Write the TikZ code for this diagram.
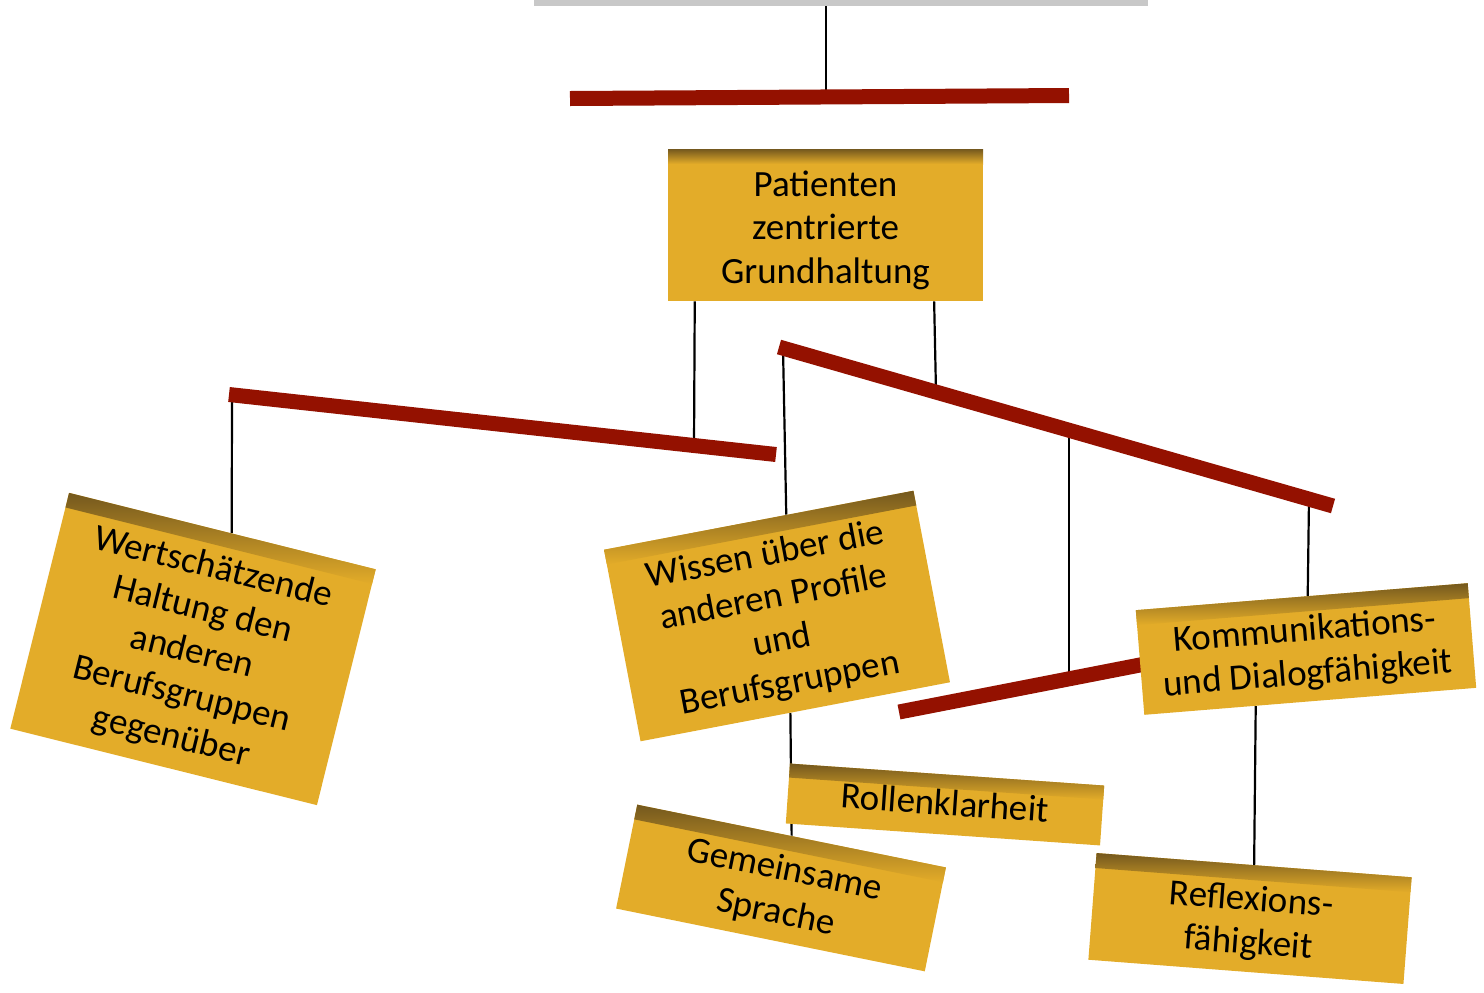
\documentclass[tikz,border=0pt]{standalone}
\usepackage{fontspec}
\setmainfont{Carlito}
\usetikzlibrary{calc}
\definecolor{barred}{RGB}{148,17,0}
\definecolor{boxfill}{RGB}{227,172,41}
\definecolor{boxshadow}{RGB}{116,88,30}
\definecolor{greybar}{RGB}{200,200,200}
\pgfdeclarelayer{lines}
\pgfdeclarelayer{bars}
\pgfsetlayers{lines,bars,main}
\newcommand\mbtext[2][2.5pt]{\raisebox{-#1}[\height][\depth]{\begin{tabular}{@{}c@{}}#2\end{tabular}}}
\tikzset{
  mobilebox/.style={fill=boxfill, inner sep=0pt, align=center, transform shape,
    font=\fontsize{18.5pt}{21.75pt}\selectfont},
  topshade/.style={top color=boxshadow, bottom color=boxfill},
  hangline/.style={line width=1.1pt, draw=black},
  redbar/.style={line width=7.5pt, draw=barred, line cap=butt},
}
\begin{document}
\begin{tikzpicture}[x=0.5pt, y=-0.5pt]
\useasboundingbox (0,0) rectangle (1484,992);

% ---------- boxes ----------
\begin{scope}[shift={(825.5,225)}]
  \node[mobilebox, minimum width=157.5pt, minimum height=76pt] (pzg) at (0,0) {\mbtext[3pt]{Patienten\\zentrierte\\Grundhaltung}};
  \shade[topshade] (-157.5,-76) rectangle (157.5,-61);
\end{scope}

\begin{scope}[shift={(193,649)}, rotate=-14]
  \node[mobilebox, minimum width=158pt, minimum height=121.5pt] (wert) at (0,0) {\mbtext{Wertschätzende\\Haltung den\\anderen\\Berufsgruppen\\gegenüber}};
  \shade[topshade] (-158,-121.5) rectangle (158,-106.5);
\end{scope}

\begin{scope}[shift={(777,616)}, rotate=10.8]
  \node[mobilebox, minimum width=157.5pt, minimum height=97.5pt] (wissen) at (0,0) {\mbtext{Wissen über die\\anderen Profile\\und\\Berufsgruppen}};
  \shade[topshade] (-157.5,-97.5) rectangle (157.5,-82.5);
\end{scope}

\begin{scope}[shift={(1306,649)}, rotate=4.65]
  \node[mobilebox, minimum width=166.5pt, minimum height=52.5pt] (komm) at (0,0) {\mbtext{Kommunikations-\\und Dialogfähigkeit}};
  \shade[topshade] (-166.5,-52.5) rectangle (166.5,-37.5);
\end{scope}

\begin{scope}[shift={(945,804.5)}, rotate=-4]
  \node[mobilebox, minimum width=157.5pt, minimum height=30pt] (rollen) at (0,0) {\mbtext[1pt]{Rollenklarheit}};
  \shade[topshade] (-157.5,-30) rectangle (157.5,-16);
\end{scope}

\begin{scope}[shift={(781,888)}, rotate=-11.5]
  \node[mobilebox, minimum width=157.5pt, minimum height=53pt] (gemein) at (0,0) {\mbtext{Gemeinsame\\Sprache}};
  \shade[topshade] (-157.5,-53) rectangle (157.5,-38);
\end{scope}

\begin{scope}[shift={(1250,918.5)}, rotate=-4.4]
  \node[mobilebox, minimum width=158pt, minimum height=53.5pt] (reflex) at (0,0) {\mbtext{Reflexions-\\fähigkeit}};
  \shade[topshade] (-158,-53.5) rectangle (158,-38.5);
\end{scope}

% ---------- coordinates on bars ----------
\coordinate (greyA) at (826,6);
\coordinate (tbL) at (570,98.5);
\coordinate (tbR) at (1069,95.5);
\coordinate (tbA) at (826,96.7);
\coordinate (lbL) at (229,394.5);
\coordinate (lbR) at (776,454.5);
\coordinate (lbA1) at (232,394.8);
\coordinate (lbA2) at (694,445.5);
\coordinate (rbL) at (779,347);
\coordinate (rbR) at (1333,506);
\coordinate (rbA1) at (783,348.1);
\coordinate (rbA2) at (936,392.1);
\coordinate (rbA3) at (1069,430.2);
\coordinate (rbA4) at (1309,499.1);
\coordinate (sbL) at (899,712);
\coordinate (sbR) at (1145,664);
\coordinate (sbA) at (1069,678.8);

% ---------- bars ----------
\begin{pgfonlayer}{bars}
  \fill[greybar] (534,0) rectangle (1148,6);
  \draw[redbar] (tbL) -- (tbR);
  \draw[redbar] (lbL) -- (lbR);
  \draw[redbar] (rbL) -- (rbR);
  \draw[redbar] (sbL) -- (sbR);
\end{pgfonlayer}

% ---------- hanging lines ----------
\begin{pgfonlayer}{lines}
  \draw[hangline] (greyA) -- (tbA);
  \draw[hangline] ($(pzg.south west)!0.086!(pzg.south east)$) -- (lbA2);
  \draw[hangline] ($(pzg.south west)!0.844!(pzg.south east)$) -- (rbA2);
  \draw[hangline] (lbA1) -- ($(wert.north west)!0.53!(wert.north east)$);
  \draw[hangline] (rbA1) -- ($(wissen.north west)!0.589!(wissen.north east)$);
  \draw[hangline] (rbA3) -- (sbA);
  \draw[hangline] (rbA4) -- ($(komm.north west)!0.518!(komm.north east)$);
  \draw[hangline] ($(wissen.south west)!0.484!(wissen.south east)$) -- (gemein.north);
  \draw[hangline] ($(komm.south west)!0.336!(komm.south east)$) -- (reflex.north);
\end{pgfonlayer}
\end{tikzpicture}
\end{document}
